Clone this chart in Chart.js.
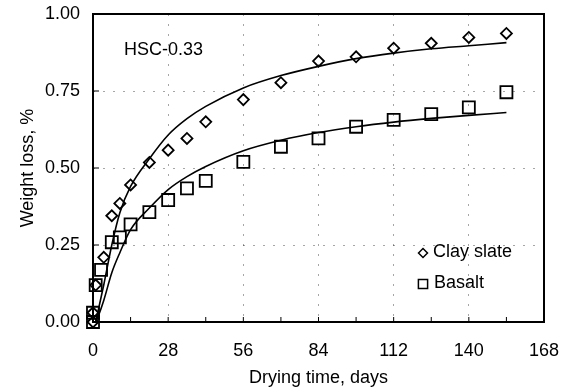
<!DOCTYPE html>
<html>
<head>
<meta charset="utf-8">
<script src="https://cdn.jsdelivr.net/npm/chart.js@4.4.1/dist/chart.umd.min.js"></script>
<style>
  html, body { margin: 0; padding: 0; background: #fff; }
</style>
</head>
<body>
<canvas id="chart" width="569" height="389"></canvas>
<script>
const clayDays = [0, 0, 1, 4, 7, 10, 14, 21, 28, 35, 42, 56, 70, 84, 98, 112, 126, 140, 154];
const clayLoss = [0.00, 0.03, 0.12, 0.21, 0.345, 0.385, 0.445, 0.518, 0.558, 0.596, 0.650, 0.722, 0.777, 0.847, 0.861, 0.889, 0.905, 0.924, 0.937];
const basaltDays = [0, 0, 1, 3, 7, 10, 14, 21, 28, 35, 42, 56, 70, 84, 98, 112, 126, 140, 154];
const basaltLoss = [0.00, 0.03, 0.12, 0.169, 0.259, 0.275, 0.317, 0.357, 0.396, 0.434, 0.458, 0.520, 0.569, 0.596, 0.634, 0.656, 0.675, 0.697, 0.746];

// fitted curves
const fitDays = [1, 2, 4, 7, 10, 14, 21, 28, 35, 42, 56, 70, 84, 98, 112, 126, 140, 154];
const clayFit = [0, 0.04, 0.12, 0.25, 0.355, 0.44, 0.53, 0.607, 0.66, 0.70, 0.76, 0.80, 0.83, 0.855, 0.873, 0.887, 0.897, 0.907];
const basaltFit = [0, 0.02, 0.07, 0.16, 0.225, 0.30, 0.37, 0.43, 0.472, 0.505, 0.556, 0.59, 0.615, 0.634, 0.649, 0.661, 0.671, 0.68];

const xTicks = [0, 28, 56, 84, 112, 140, 168];
const yTicks = [0, 0.25, 0.5, 0.75, 1];
const xMinorTicks = [14, 28, 42, 56, 70, 84, 98, 112, 126, 140, 154];
const yMinorTicks = [0.25, 0.5, 0.75];

const caption = 'HSC-0.33';
const seriesNames = ['Clay slate', 'Basalt'];

const FONT = "'Liberation Sans', Arial, sans-serif";

function toPoints(xs, ys) {
    return xs.map((x, i) => ({ x: x, y: ys[i] }));
}

const decor = {
    id: 'decor',
    beforeDatasetsDraw(chart) {
        const { ctx, chartArea: a, scales: { x, y } } = chart;
        ctx.save();
        ctx.strokeStyle = '#000';
        ctx.lineWidth = 2;
        ctx.strokeRect(a.left, a.top, a.right - a.left, a.bottom - a.top);
        ctx.lineWidth = 1;
        ctx.beginPath();
        xMinorTicks.forEach(v => {
            const px = x.getPixelForValue(v);
            ctx.moveTo(px, a.bottom);
            ctx.lineTo(px, a.bottom - 5);
        });
        yMinorTicks.forEach(v => {
            const py = y.getPixelForValue(v);
            ctx.moveTo(a.left, py);
            ctx.lineTo(a.left + 6, py);
        });
        ctx.stroke();
        ctx.restore();
    },
    afterDatasetsDraw(chart) {
        const { ctx, chartArea: a } = chart;
        ctx.save();
        ctx.fillStyle = '#000';
        ctx.font = '18px ' + FONT;
        ctx.textBaseline = 'middle';
        ctx.textAlign = 'left';
        ctx.fillText(caption, a.left + 31, a.top + 36);

        // legend
        ctx.strokeStyle = '#000';
        ctx.fillStyle = 'rgba(0,0,0,0)';
        ctx.lineWidth = 1.5;
        Chart.helpers.drawPoint(ctx, { pointStyle: 'rectRot', radius: 4.5, borderWidth: 1.5 }, a.right - 121, a.bottom - 69);
        Chart.helpers.drawPoint(ctx, { pointStyle: 'rect', radius: 6.5, borderWidth: 1.5 }, a.right - 121, a.bottom - 38);
        ctx.fillStyle = '#000';
        ctx.fillText(seriesNames[0], a.right - 111, a.bottom - 70);
        ctx.fillText(seriesNames[1], a.right - 110, a.bottom - 39);
        ctx.restore();
    }
};

const ctx = document.getElementById('chart').getContext('2d');
new Chart(ctx, {
    type: 'scatter',
    data: {
        datasets: [
            {
                label: seriesNames[0] + ' fit',
                data: toPoints(fitDays, clayFit),
                showLine: true,
                borderColor: '#000',
                borderWidth: 1.6,
                pointRadius: 0,
                cubicInterpolationMode: 'monotone',
                clip: false
            },
            {
                label: seriesNames[1] + ' fit',
                data: toPoints(fitDays, basaltFit),
                showLine: true,
                borderColor: '#000',
                borderWidth: 1.6,
                pointRadius: 0,
                cubicInterpolationMode: 'monotone',
                clip: false
            },
            {
                label: seriesNames[0],
                data: toPoints(clayDays, clayLoss),
                pointStyle: 'rectRot',
                pointRadius: 5.5,
                pointBorderWidth: 1.8,
                borderColor: '#000',
                backgroundColor: 'rgba(0,0,0,0)',
                clip: false
            },
            {
                label: seriesNames[1],
                data: toPoints(basaltDays, basaltLoss),
                pointStyle: 'rect',
                pointRadius: 8.5,
                pointBorderWidth: 1.8,
                borderColor: '#000',
                backgroundColor: 'rgba(0,0,0,0)',
                clip: false
            }
        ]
    },
    options: {
        responsive: false,
        animation: false,
        layout: { padding: { top: 14, right: 25, left: 0, bottom: 0 } },
        plugins: {
            legend: { display: false },
            tooltip: { enabled: false }
        },
        scales: {
            x: {
                type: 'linear',
                min: 0,
                max: 168,
                afterBuildTicks: scale => { scale.ticks = xTicks.map(v => ({ value: v })); },
                afterFit: scale => {
                    scale.height = 67;
                    scale.paddingLeft = 0;
                    scale.paddingRight = 0;
                },
                ticks: {
                    color: '#000',
                    font: { family: FONT, size: 18 },
                    padding: 18,
                    maxRotation: 0
                },
                grid: {
                    drawTicks: false,
                    color: c => (c.tick && (c.tick.value === 0 || c.tick.value === 168)) ? 'rgba(0,0,0,0)' : 'rgba(0,0,0,0.35)',
                    lineWidth: 1
                },
                border: { display: false, dash: [2, 8] },
                title: {
                    display: true,
                    text: 'Drying time, days',
                    color: '#000',
                    font: { family: FONT, size: 18 },
                    padding: { top: 0, bottom: 0 }
                }
            },
            y: {
                min: 0,
                max: 1,
                afterBuildTicks: scale => { scale.ticks = yTicks.map(v => ({ value: v })); },
                afterFit: scale => {
                    scale.width = 93;
                    scale.paddingTop = 0;
                    scale.paddingBottom = 0;
                },
                ticks: {
                    color: '#000',
                    font: { family: FONT, size: 18 },
                    padding: 13,
                    callback: v => v.toFixed(2)
                },
                grid: {
                    drawTicks: false,
                    color: c => (c.tick && (c.tick.value === 0 || c.tick.value === 1)) ? 'rgba(0,0,0,0)' : 'rgba(0,0,0,0.35)',
                    lineWidth: 1
                },
                border: { display: false, dash: [2, 8] },
                title: {
                    display: true,
                    text: 'Weight loss, %',
                    color: '#000',
                    font: { family: FONT, size: 18 },
                    padding: { top: 17, bottom: 0 }
                }
            }
        }
    },
    plugins: [decor]
});
</script>
</body>
</html>
